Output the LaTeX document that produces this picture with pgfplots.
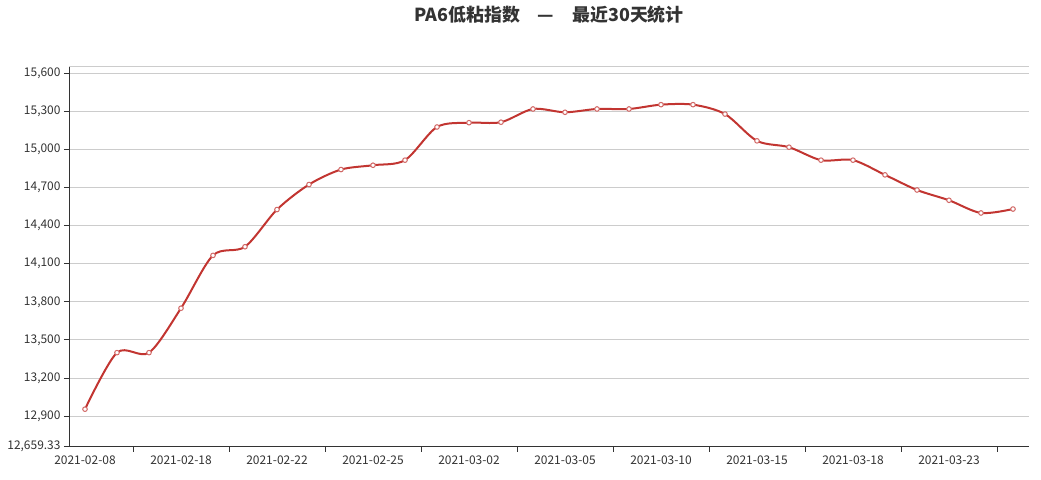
\documentclass[border=0pt]{standalone}
\usepackage{fontspec}
\setmainfont{Noto Sans CJK SC}
\usepackage{pgfplots}
\pgfplotsset{compat=1.18}
\definecolor{c1}{HTML}{C23531}
\definecolor{txt}{HTML}{333333}
\definecolor{gridc}{HTML}{CCCCCC}
\begin{document}
\begin{tikzpicture}
\useasboundingbox (0,0) rectangle (1041bp,480bp);
\begin{axis}[
  at={(69bp,33.3bp)}, anchor=south west,
  scale only axis, width=960bp, height=380bp,
  xmin=-0.5, xmax=29.5,
  ymin=12659.33, ymax=15652,
  axis x line=bottom, axis y line=left,
  axis line style={-, draw=txt, line width=1bp},
  xtick={1.5,4.5,...,28.5},
  xticklabels={2021-02-08,2021-02-18,2021-02-22,2021-02-25,2021-03-02,2021-03-05,2021-03-10,2021-03-15,2021-03-18,2021-03-23},
  x tick label style={xshift=-48bp, font=\fontsize{12}{14}\selectfont, text=txt, yshift=-1bp},
  ytick={12900,13200,...,15600},
  scaled y ticks=false,
  extra y ticks={12659.33},
  extra y tick labels={12{,}659.33},
  extra y tick style={grid=none},
  y tick label style={font=\fontsize{12}{14}\selectfont, text=txt},
  /pgf/number format/fixed,
  /pgf/number format/1000 sep={,},
  /pgf/number format/assume math mode=true,
  tick align=outside,
  major tick length=5bp,
  tick style={draw=txt, line width=1bp},
  ymajorgrids,
  grid style={draw=gridc, line width=1bp},
  title={\bfseries PA6低粘指数\hspace{18bp}—\hspace{18bp}最近30天统计},
  title style={at={(0.5,1)}, anchor=center, yshift=46.5bp, font=\fontsize{18}{20}\selectfont, text=txt},
  clip=false,
  after end axis/.code={\draw[gridc, line width=1bp] (rel axis cs:0,1) -- (rel axis cs:1,1);},
]
\addplot[color=c1, line width=2bp, smooth, tension=0.5, mark=*, mark size=2.3bp,
  mark options={fill=white, draw=c1!75, line width=1bp}] table {
x y
0 12955
1 13400
2 13400
3 13750
4 14166
5 14234
6 14527
7 14724
8 14842
9 14876
10 14916
11 15177
12 15211
13 15215
14 15319
15 15293
16 15319
17 15319
18 15353
19 15353
20 15279
21 15068
22 15018
23 14916
24 14916
25 14800
26 14681
27 14600
28 14500
29 14531
};
\end{axis}
\end{tikzpicture}
\end{document}
